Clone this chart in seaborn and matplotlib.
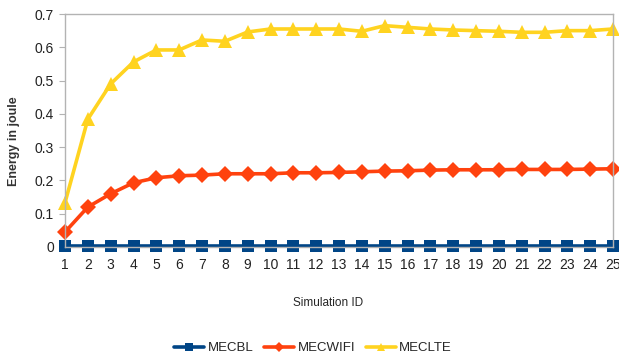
import matplotlib
matplotlib.use("Agg")
import matplotlib.pyplot as plt
import seaborn as sns
import pandas as pd
from matplotlib.lines import Line2D

sim_ids = list(range(1, 26))
mecbl = [0.003] * 25
mecwifi = [0.045, 0.12, 0.16, 0.193, 0.208, 0.214, 0.216, 0.22, 0.22, 0.22,
           0.223, 0.223, 0.224, 0.226, 0.228, 0.229, 0.231, 0.232, 0.232, 0.232,
           0.233, 0.233, 0.233, 0.234, 0.235]
meclte = [0.133, 0.384, 0.49, 0.556, 0.592, 0.592, 0.622, 0.618, 0.646, 0.655,
          0.655, 0.655, 0.655, 0.648, 0.665, 0.66, 0.655, 0.652, 0.65, 0.648,
          0.645, 0.645, 0.65, 0.65, 0.655]
series_names = ["MECBL", "MECWIFI", "MECLTE"]
colors = {"MECBL": "#004586", "MECWIFI": "#ff420e", "MECLTE": "#ffd320"}
markers = {"MECBL": "s", "MECWIFI": "D", "MECLTE": "^"}
msizes = {"MECBL": 9, "MECWIFI": 8, "MECLTE": 9.5}

df = pd.DataFrame({
    "Simulation ID": sim_ids * 3,
    "Energy": mecbl + mecwifi + meclte,
    "Series": [n for n in series_names for _ in sim_ids],
})

sns.set_style("white")
plt.rcParams["font.family"] = ["Liberation Sans", "DejaVu Sans"]

fig = plt.figure(figsize=(6.19, 3.58), dpi=100)
ax = fig.add_axes([65 / 619, 1 - 247 / 358, 548 / 619, 233 / 358])

# draw in reverse so the baseline series sits on top
for name in series_names[::-1]:
    sub = df[df["Series"] == name]
    sns.lineplot(data=sub, x="Simulation ID", y="Energy", ax=ax,
                 color=colors[name], marker=markers[name],
                 markersize=msizes[name], markeredgewidth=0,
                 linewidth=2.6, clip_on=False, legend=False)

ax.set_xlim(1, 25)
ax.set_ylim(0, 0.7)
ax.set_xticks(sim_ids)
ax.set_yticks([0, 0.1, 0.2, 0.3, 0.4, 0.5, 0.6, 0.7])
ax.set_yticklabels(["0", "0.1", "0.2", "0.3", "0.4", "0.5", "0.6", "0.7"])
ax.tick_params(axis="both", labelsize=10, colors="#222222")
ax.tick_params(axis="y", length=4, width=0.8, color="#b3b3b3", pad=4, left=True)
ax.tick_params(axis="x", length=0, pad=8)
for s in ax.spines.values():
    s.set_color("#b3b3b3")
    s.set_linewidth(1.0)

ax.set_xlabel("Simulation ID", fontsize=8.5)
ax.xaxis.set_label_coords(0.48, -0.215)
ax.set_ylabel("Energy in joule", fontsize=9, fontweight="bold", color="#333333")
ax.yaxis.set_label_coords(-0.083, 0.453)

handles = [Line2D([0], [0], color=colors[n], marker=markers[n],
                  markersize=msizes[n] * 0.65, markeredgewidth=0, linewidth=2.6)
           for n in series_names]
fig.legend(handles, series_names, loc="center", bbox_to_anchor=(313 / 619, 1 - 348 / 358),
           ncol=3, frameon=False, fontsize=9.5, handlelength=2.3,
           columnspacing=0.8, handletextpad=0.25, borderaxespad=0, borderpad=0)

fig.savefig("out.png", dpi=100)
